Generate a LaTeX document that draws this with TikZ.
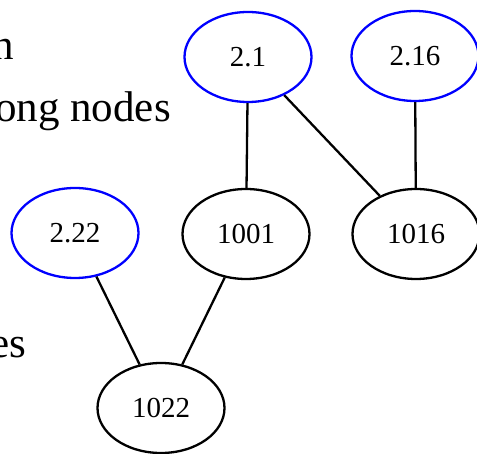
\documentclass[tikz,border=0pt]{standalone}
\usepackage{fontspec}
\setmainfont{Liberation Serif}
\usetikzlibrary{shapes.geometric}

\begin{document}
\begin{tikzpicture}[x=1pt,y=-1pt,
  vertex/.style={ellipse,draw=black,line width=2.3pt,minimum width=127pt,minimum height=90pt,inner sep=0pt,font=\fontsize{29.0}{34.8}\selectfont},
  source/.style={vertex,draw=blue},
  link/.style={line width=2.3pt}]
\path[use as bounding box] (0,0) rectangle (477.0,454.0);
\node[anchor=base west,inner sep=0pt,font=\fontsize{43.0}{51.6}\selectfont ] (capA) at (-8,60) {n};
\node[anchor=base west,inner sep=0pt,font=\fontsize{43.0}{51.6}\selectfont ] (capB) at (-5,122) {ong nodes};
\node[anchor=base west,inner sep=0pt,font=\fontsize{43.0}{51.6}\selectfont ] (capC) at (-10,358) {es};
\node[source] (n21) at (248,57) {2.1};
\node[source] (n216) at (415,56) {2.16};
\node[source] (n222) at (75,233) {2.22};
\node[vertex] (n1001) at (246,234) {1001};
\node[vertex] (n1016) at (416,234) {1016};
\node[vertex] (n1022) at (161,408) {1022};
\draw[link] (n21) -- (n1001);
\draw[link] (n21) -- (n1016);
\draw[link] (n216) -- (n1016);
\draw[link] (n222) -- (n1022);
\draw[link] (n1001) -- (n1022);
\end{tikzpicture}
\end{document}
